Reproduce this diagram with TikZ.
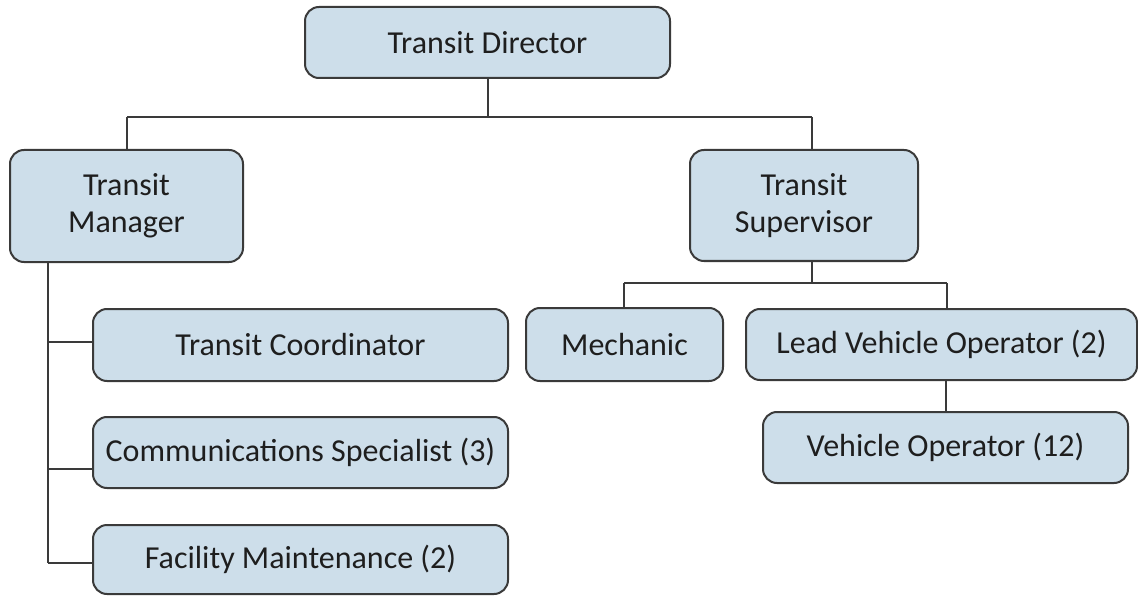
\documentclass[tikz,border=0pt]{standalone}
\usepackage{fontspec}
\setmainfont{Carlito}
\definecolor{boxfill}{HTML}{CDDEEA}
\definecolor{boxline}{HTML}{3A3A3A}
\definecolor{linecol}{HTML}{3A3A3A}
\definecolor{txt}{HTML}{1E1E1E}
\begin{document}
\begin{tikzpicture}[x=1pt,y=-1pt,
  orgbox/.style={draw=boxline, line width=2pt, fill=boxfill, rounded corners=14pt,
    inner sep=0pt, align=center, text=txt, font=\fontsize{32}{37}\selectfont},
  link/.style={draw=linecol, line width=2pt}]
\useasboundingbox (0,0) rectangle (1138,596);

% boxes
\node[orgbox, minimum width=365pt, minimum height=71pt]  (dir)   at (487.5,42.5)  {Transit Director};
\node[orgbox, minimum width=233pt, minimum height=112pt] (mgr)   at (126.5,206)   {Transit\\Manager};
\node[orgbox, minimum width=228pt, minimum height=111pt] (sup)   at (804,205.5)   {Transit\\Supervisor};
\node[orgbox, minimum width=415pt, minimum height=72pt]  (coord) at (300.5,345)   {Transit Coordinator};
\node[orgbox, minimum width=415pt, minimum height=71pt]  (comm)  at (300.5,452.5) {Communications Specialist (3)};
\node[orgbox, minimum width=415pt, minimum height=69pt]  (fac)   at (300.5,559.5) {Facility Maintenance (2)};
\node[orgbox, minimum width=197pt, minimum height=73pt]  (mech)  at (624.5,344.5) {Mechanic};
\node[orgbox, minimum width=391pt, minimum height=71pt]  (lead)  at (941.5,344.5) {Lead Vehicle Operator (2)};
\node[orgbox, minimum width=365pt, minimum height=71pt]  (veh)   at (945.5,447.5) {Vehicle Operator (12)};

% director to manager and supervisor
\coordinate (jl) at (127,117);
\coordinate (jr) at (812,117);
\draw[link] (dir.south) -- (dir.south |- jl);
\draw[link] (jl) -- (jr);
\draw[link] (jl) -- (jl |- mgr.north);
\draw[link] (jr) -- (jr |- sup.north);

% manager spine and its branches
\coordinate (ms) at (48,563);
\coordinate (b1) at (48,342);
\coordinate (b2) at (48,469);
\draw[link] (ms |- mgr.south) -- (ms);
\draw[link] (b1) -- (b1 -| coord.west);
\draw[link] (b2) -- (b2 -| comm.west);
\draw[link] (ms) -- (ms -| fac.west);

% supervisor to mechanic and lead operator
\coordinate (sd) at (812,283);
\coordinate (sl) at (624,283);
\coordinate (sr) at (947,283);
\draw[link] (sd |- sup.south) -- (sd);
\draw[link] (sl) -- (sr);
\draw[link] (sl) -- (sl |- mech.north);
\draw[link] (sr) -- (sr |- lead.north);

% lead operator to vehicle operators
\coordinate (vl) at (946,400);
\draw[link] (vl |- lead.south) -- (vl |- veh.north);
\end{tikzpicture}
\end{document}
